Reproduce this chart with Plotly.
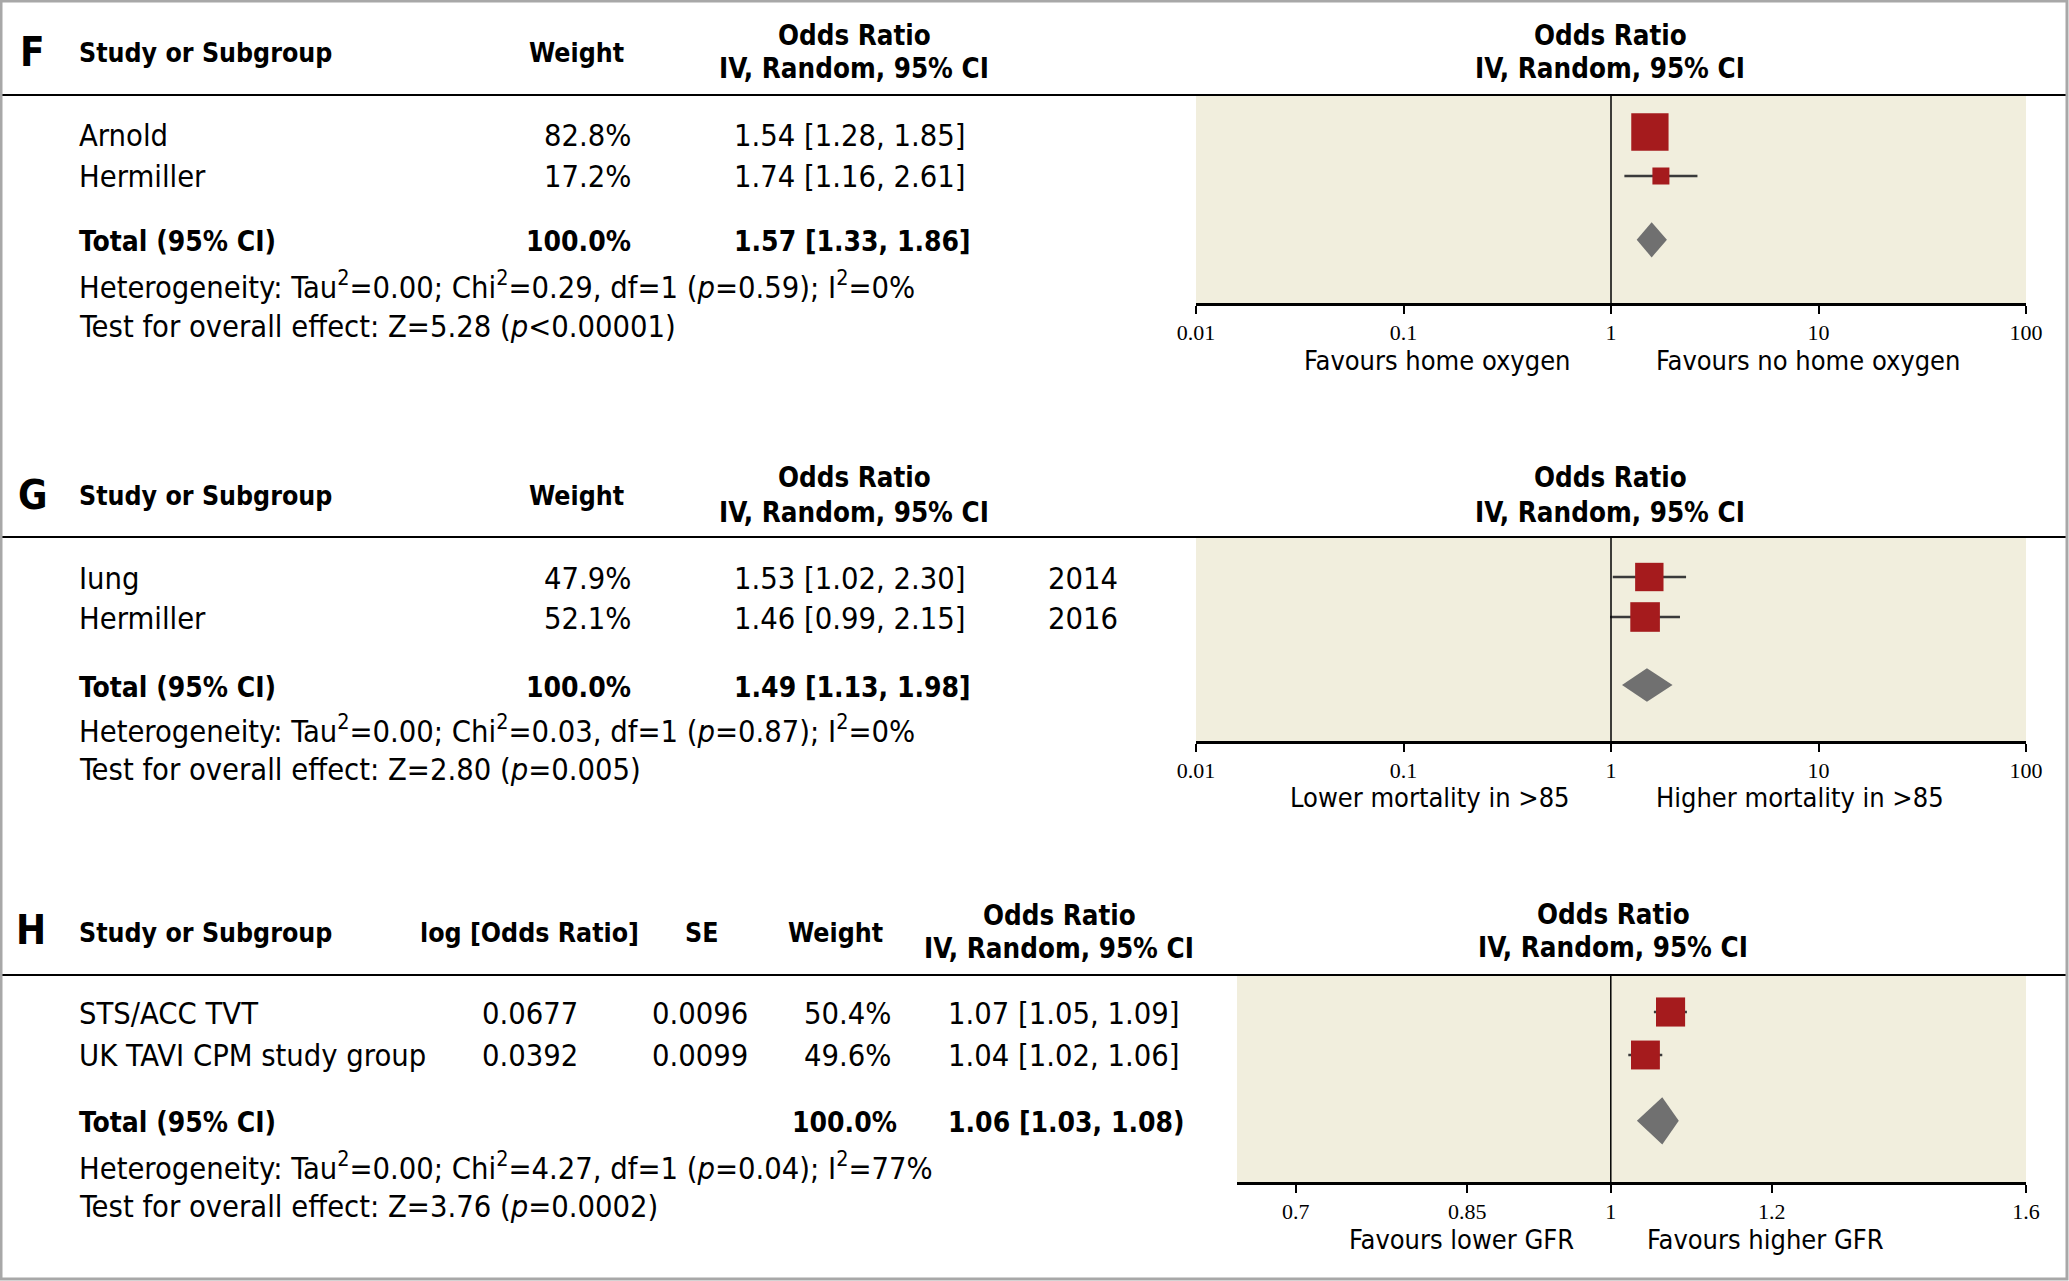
import plotly.graph_objects as go
import math

W, H = 2069, 1281

# ---------------- data ----------------
f_studies = ["Arnold", "Hermiller"]
f_weight = [82.8, 17.2]
f_or = [1.54, 1.74]
f_lo = [1.28, 1.16]
f_hi = [1.85, 2.61]
f_total = (1.57, 1.33, 1.86)
f_het = "Heterogeneity: Tau<sup>2</sup>=0.00; Chi<sup>2</sup>=0.29, df=1 (<i>p</i>=0.59); I<sup>2</sup>=0%"
f_test = "Test for overall effect: Z=5.28 (<i>p</i>&lt;0.00001)"
f_favours = ("Favours home oxygen", "Favours no home oxygen")

g_studies = ["Iung", "Hermiller"]
g_weight = [47.9, 52.1]
g_or = [1.53, 1.46]
g_lo = [1.02, 0.99]
g_hi = [2.30, 2.15]
g_year = ["2014", "2016"]
g_total = (1.49, 1.13, 1.98)
g_het = "Heterogeneity: Tau<sup>2</sup>=0.00; Chi<sup>2</sup>=0.03, df=1 (<i>p</i>=0.87); I<sup>2</sup>=0%"
g_test = "Test for overall effect: Z=2.80 (<i>p</i>=0.005)"
g_favours = ("Lower mortality in >85", "Higher mortality in >85")

h_studies = ["STS/ACC TVT", "UK TAVI CPM study group"]
h_logor = ["0.0677", "0.0392"]
h_se = ["0.0096", "0.0099"]
h_weight = [50.4, 49.6]
h_or = [1.07, 1.04]
h_lo = [1.05, 1.02]
h_hi = [1.09, 1.06]
h_total = (1.06, 1.03, 1.08)
h_het = "Heterogeneity: Tau<sup>2</sup>=0.00; Chi<sup>2</sup>=4.27, df=1 (<i>p</i>=0.04); I<sup>2</sup>=77%"
h_test = "Test for overall effect: Z=3.76 (<i>p</i>=0.0002)"
h_favours = ("Favours lower GFR", "Favours higher GFR")

wide_ticks = [0.01, 0.1, 1, 10, 100]
wide_ticktext = ["0.01", "0.1", "1", "10", "100"]
narrow_ticks = [0.7, 0.85, 1, 1.2, 1.6]
narrow_ticktext = ["0.7", "0.85", "1", "1.2", "1.6"]

# ---------------- style ----------------
SANS = "Liberation Sans Narrow, DejaVu Sans Condensed, Arial Narrow, Liberation Sans, sans-serif"
SERIF = "Liberation Serif, DejaVu Serif, serif"
FS = 30.6      # regular table text
FH = 26.5      # bold single-line headers
FH2 = 27.5     # bold two-line "Odds Ratio" headers
FT = 28        # bold total rows
FF = 27        # favours labels
RED = "#a51b1d"
GREY = "#707070"
BG = "#f1eedd"
LX = 77        # left text column


def X(p):
    return p / W


def Y(p):
    return 1 - p / H


fig = go.Figure()
annotations = []
shapes = []


def text(x, y, s, anchor="left", size=FS, bold=False, family=SANS):
    if bold:
        s = "<b>" + s + "</b>"
    annotations.append(dict(x=X(x), y=Y(y), xref="paper", yref="paper", text=s,
                            showarrow=False, xanchor=anchor, yanchor="middle",
                            font=dict(family=family, size=size, color="black")))


def panel(idx, ors, los, his, weights, total, dom_x, dom_y, row0, dy, ticks, ticktext,
          rng, diam_h, total_pos):
    xa = "x" if idx == 1 else "x%d" % idx
    ya = "y" if idx == 1 else "y%d" % idx
    n = len(ors)
    ys = list(range(n))
    # confidence interval whiskers (drawn first, under the boxes)
    cx, cy = [], []
    for i in range(n):
        cx += [los[i], his[i], None]
        cy += [ys[i], ys[i], None]
    fig.add_trace(go.Scatter(x=cx, y=cy, mode="lines", xaxis=xa, yaxis=ya,
                             line=dict(color="#3a3a3a", width=2.5),
                             showlegend=False, hoverinfo="skip"))
    sizes = [4.1 * math.sqrt(w) for w in weights]
    fig.add_trace(go.Scatter(
        x=ors, y=ys, mode="markers", xaxis=xa, yaxis=ya, showlegend=False,
        marker=dict(symbol="square", size=sizes, color=RED, opacity=1,
                    line=dict(width=0))))
    t_or, t_lo, t_hi = total
    fig.add_trace(go.Scatter(
        x=[t_lo, t_or, t_hi, t_or, t_lo],
        y=[total_pos, total_pos - diam_h, total_pos, total_pos + diam_h, total_pos],
        mode="lines", fill="toself", fillcolor=GREY, line=dict(width=0, color=GREY),
        xaxis=xa, yaxis=ya, showlegend=False, hoverinfo="skip"))
    top, bottom = dom_y
    yr = [(bottom - row0) / dy, (top - row0) / dy]
    key = "xaxis" if idx == 1 else "xaxis%d" % idx
    ykey = "yaxis" if idx == 1 else "yaxis%d" % idx
    fig.layout[key] = dict(type="log", range=[math.log10(rng[0]), math.log10(rng[1])],
                           domain=[X(dom_x[0]), X(dom_x[1])], anchor=ya,
                           tickvals=ticks, ticktext=ticktext, showline=True,
                           linecolor="black", linewidth=3, ticks="outside",
                           ticklen=8, tickwidth=2, tickcolor="black", showgrid=False,
                           zeroline=False, fixedrange=True, automargin=False,
                           tickfont=dict(family=SERIF, size=22, color="black"))
    fig.layout[ykey] = dict(range=yr, domain=[Y(bottom), Y(top)], anchor=xa,
                            visible=False, showgrid=False, zeroline=False,
                            fixedrange=True, automargin=False)
    shapes.append(dict(type="line", xref=xa, yref=ya + " domain", x0=1, x1=1, y0=0, y1=1,
                       line=dict(color="black", width=1.5)))


# panel F
panel(1, f_or, f_lo, f_hi, f_weight, f_total, (1196, 2026), (95, 303), 132, 44,
      wide_ticks, wide_ticktext, (0.01, 100), 0.4, 2.45)
# panel G
panel(2, g_or, g_lo, g_hi, g_weight, g_total, (1196, 2026), (537, 741), 577, 40,
      wide_ticks, wide_ticktext, (0.01, 100), 0.42, 2.7)
# panel H (log axis; its left end lies a little below the 0.7 tick)
panel(3, h_or, h_lo, h_hi, h_weight, h_total, (1237, 2026), (975, 1182), 1012, 43,
      narrow_ticks, narrow_ticktext, (0.655, 1.6), 0.55, 2.53)

# header lines
for yl in (95, 537, 975):
    shapes.append(dict(type="line", xref="paper", yref="paper", x0=0, x1=X(2066),
                       y0=Y(yl), y1=Y(yl), line=dict(color="black", width=2)))
# outer frame
shapes.append(dict(type="rect", xref="paper", yref="paper", x0=X(1), x1=X(2067),
                   y0=Y(1279), y1=Y(1), line=dict(color="#a8a8a8", width=3)))


def fmt_ci(o, l, h):
    return "%.2f [%.2f, %.2f]" % (o, l, h)


# ---- panel F text ----
text(18, 52, "F", size=40, bold=True)
text(LX, 52, "Study or Subgroup", size=FH, bold=True)
text(576, 52, "Weight", anchor="center", size=FH, bold=True)
text(854, 35, "Odds Ratio", anchor="center", size=FH2, bold=True)
text(854, 68, "IV, Random, 95% CI", anchor="center", size=FH2, bold=True)
text(1610, 35, "Odds Ratio", anchor="center", size=FH2, bold=True)
text(1610, 68, "IV, Random, 95% CI", anchor="center", size=FH2, bold=True)
for i, (s, w, o, l, h) in enumerate(zip(f_studies, f_weight, f_or, f_lo, f_hi)):
    yy = [135, 177][i]
    text(LX, yy, s)
    text(633, yy, "%.1f%%" % w, anchor="right")
    text(732, yy, fmt_ci(o, l, h))
text(LX, 242, "Total (95% CI)", size=FT, bold=True)
text(633, 242, "%.1f%%" % sum(f_weight), anchor="right", size=FT, bold=True)
text(732, 242, fmt_ci(*f_total), size=FT, bold=True)
text(LX, 285, f_het)
text(LX, 326, f_test)
text(1572, 360, f_favours[0], anchor="right", size=FF)
text(1654, 360, f_favours[1], anchor="left", size=FF)

# ---- panel G text ----
text(16, 495, "G", size=40, bold=True)
text(LX, 495, "Study or Subgroup", size=FH, bold=True)
text(576, 495, "Weight", anchor="center", size=FH, bold=True)
text(854, 477, "Odds Ratio", anchor="center", size=FH2, bold=True)
text(854, 512, "IV, Random, 95% CI", anchor="center", size=FH2, bold=True)
text(1610, 477, "Odds Ratio", anchor="center", size=FH2, bold=True)
text(1610, 512, "IV, Random, 95% CI", anchor="center", size=FH2, bold=True)
for i, (s, w, o, l, h, yr) in enumerate(zip(g_studies, g_weight, g_or, g_lo, g_hi, g_year)):
    yy = [578, 618][i]
    text(LX, yy, s)
    text(633, yy, "%.1f%%" % w, anchor="right")
    text(732, yy, fmt_ci(o, l, h))
    text(1120, yy, yr, anchor="right")
text(LX, 687, "Total (95% CI)", size=FT, bold=True)
text(633, 687, "%.1f%%" % sum(g_weight), anchor="right", size=FT, bold=True)
text(732, 687, fmt_ci(*g_total), size=FT, bold=True)
text(LX, 729, g_het)
text(LX, 769, g_test)
text(1572, 797, g_favours[0], anchor="right", size=FF)
text(1654, 797, g_favours[1], anchor="left", size=FF)

# ---- panel H text ----
text(14, 930, "H", size=40, bold=True)
text(LX, 932, "Study or Subgroup", size=FH, bold=True)
text(529, 932, "log [Odds Ratio]", anchor="center", size=FH, bold=True)
text(701, 932, "SE", anchor="center", size=FH, bold=True)
text(835, 932, "Weight", anchor="center", size=FH, bold=True)
text(1059, 915, "Odds Ratio", anchor="center", size=FH2, bold=True)
text(1059, 948, "IV, Random, 95% CI", anchor="center", size=FH2, bold=True)
text(1613, 914, "Odds Ratio", anchor="center", size=FH2, bold=True)
text(1613, 947, "IV, Random, 95% CI", anchor="center", size=FH2, bold=True)
for i, (s, lo_, se, w, o, l, h) in enumerate(zip(h_studies, h_logor, h_se, h_weight,
                                                 h_or, h_lo, h_hi)):
    yy = [1013, 1055][i]
    text(LX, yy, s)
    text(580, yy, lo_, anchor="right")
    text(750, yy, se, anchor="right")
    text(893, yy, "%.1f%%" % w, anchor="right")
    text(946, yy, fmt_ci(o, l, h))
text(LX, 1122, "Total (95% CI)", size=FT, bold=True)
text(899, 1122, "%.1f%%" % sum(h_weight), anchor="right", size=FT, bold=True)
text(946, 1122, fmt_ci(*h_total).replace("]", ")"), size=FT, bold=True)
text(LX, 1166, h_het)
text(LX, 1206, h_test)
text(1576, 1239, h_favours[0], anchor="right", size=FF)
text(1645, 1239, h_favours[1], anchor="left", size=FF)

fig.update_layout(width=W, height=H,
                  margin=dict(l=0, r=0, t=0, b=0, pad=0, autoexpand=False),
                  paper_bgcolor="white", plot_bgcolor=BG, showlegend=False,
                  annotations=annotations, shapes=shapes)

fig.write_html(
    "out.html",
    config={"displayModeBar": False, "staticPlot": True},
    post_script=("document.documentElement.style.margin='0';"
                 "document.body.style.margin='0';"
                 "document.documentElement.style.overflow='hidden';"
                 "document.body.style.overflow='hidden';"),
)
